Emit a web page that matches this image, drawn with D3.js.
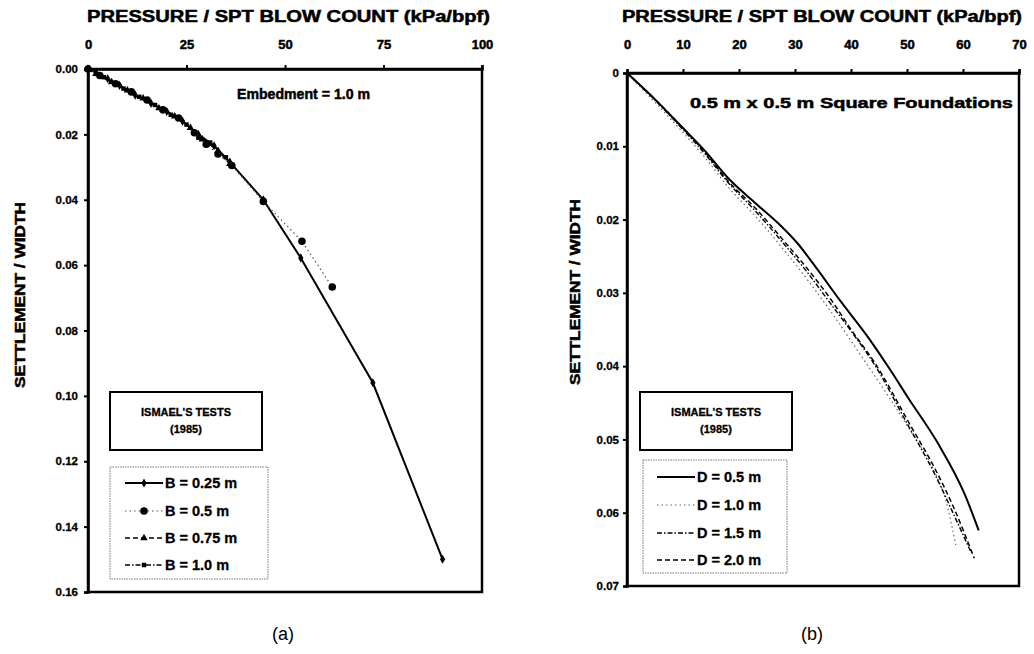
<!DOCTYPE html>
<html>
<head>
<meta charset="utf-8">
<script src="https://cdn.jsdelivr.net/npm/d3@7"></script>
<style>
  body { margin: 0; background: #fff; }
  svg text { font-family: "Liberation Sans", Arial, sans-serif; fill: #000; }
  svg text.heavy { stroke: #000; stroke-width: 0.5; }
</style>
</head>
<body>
<div id="js-chart"></div>
<script>
"use strict";

// Panel (a): pressure (kPa/bpf) vs settlement / width, embedment 1.0 m
var seriesA_B025 = [[0,0],[2,0.001],[5,0.003],[8,0.005],[12,0.008],[16,0.0105],[20,0.013],[24,0.016],[28,0.02],[32,0.0235],[36,0.0285],[44.5,0.040],[54,0.0578],[72.3,0.096],[90,0.150]];
var seriesA_B05 = [[0,0],[3,0.002],[7,0.0045],[11,0.007],[15,0.0095],[19,0.0125],[23,0.015],[27,0.0195],[30,0.023],[33,0.026],[36.5,0.0295],[44.5,0.0405],[54.3,0.0527],[62,0.0667]];
var seriesA_B075 = [[0,0],[2,0.0015],[6,0.004],[10,0.0065],[14,0.009],[18,0.012],[22,0.0145],[26,0.018],[29,0.0215],[33,0.025],[36,0.029]];
var seriesA_B10 = [[0,0],[4,0.0025],[9,0.006],[13,0.0085],[17,0.011],[21,0.014],[25,0.017],[28,0.021],[31,0.0225],[35,0.027]];
var labelsA = ["B = 0.25 m", "B = 0.5 m", "B = 0.75 m", "B = 1.0 m"];
var xTicksA = [0, 25, 50, 75, 100];
var yTicksA = [0, 0.02, 0.04, 0.06, 0.08, 0.10, 0.12, 0.14, 0.16];

// Panel (b): 0.5 m x 0.5 m square foundations, several embedment depths
var seriesB_D05 = [[0,0],[5,0.0036],[9.2,0.0069],[14,0.0107],[18,0.0143],[23,0.0178],[27,0.0205],[30.4,0.0232],[34,0.0268],[38,0.031],[43,0.036],[47,0.0405],[50.1,0.0442],[55.5,0.0505],[60.2,0.0573],[62.8,0.0624]];
var seriesB_D10 = [[0,0],[5,0.004],[9.5,0.0077],[14,0.0116],[18,0.0155],[23,0.0196],[28.3,0.0244],[33,0.029],[36.9,0.0331],[42,0.0388],[47.1,0.0446],[51,0.0493],[54.8,0.0542],[57,0.0585],[58.7,0.0644]];
var seriesB_D15 = [[0,0],[5,0.0037],[9.5,0.0073],[14,0.0111],[18,0.0149],[23,0.0189],[28,0.0233],[32,0.027],[36,0.0311],[40,0.0352],[44.2,0.0398],[50,0.0478],[55,0.0548],[58.5,0.0605],[61.5,0.0655]];
var seriesB_D20 = [[0,0],[5,0.0036],[9.5,0.0071],[14,0.0109],[18,0.0147],[23,0.0185],[28,0.0229],[32,0.0265],[36.5,0.031],[40,0.035],[44.2,0.0395],[50.7,0.0482],[55,0.054],[58.4,0.0594],[62,0.0662]];
var labelsB = ["D = 0.5 m", "D = 1.0 m", "D = 1.5 m", "D = 2.0 m"];
var xTicksB = [0, 10, 20, 30, 40, 50, 60, 70];
var yTicksB = [0, 0.01, 0.02, 0.03, 0.04, 0.05, 0.06, 0.07];

var svg = d3.select("#js-chart").append("svg")
  .attr("width", 1034)
  .attr("height", 654);

var drawPanel = function(cfg) {
  var x = d3.scaleLinear().domain(cfg.xDomain).range([cfg.left, cfg.right]);
  var y = d3.scaleLinear().domain(cfg.yDomain).range([cfg.top, cfg.bottom]);
  var g = svg.append("g");

  // frame
  g.append("rect")
    .attr("x", cfg.left).attr("y", cfg.top)
    .attr("width", cfg.right - cfg.left).attr("height", cfg.bottom - cfg.top)
    .attr("fill", "none").attr("stroke", "#000").attr("stroke-width", 2.5);

  var xAxis = g.append("g")
    .attr("transform", "translate(0," + cfg.top + ")")
    .call(d3.axisTop(x).tickValues(cfg.xTicks).tickSize(4).tickPadding(cfg.xPad));
  var yAxis = g.append("g")
    .attr("transform", "translate(" + cfg.left + ",0)")
    .call(d3.axisLeft(y).tickValues(cfg.yTicks).tickSize(4).tickPadding(cfg.yPad).tickFormat(cfg.yFormat));

  [xAxis, yAxis].forEach(function(a) {
    a.select(".domain").attr("stroke-width", 2.5);
    a.selectAll(".tick line").attr("stroke-width", 2);
    a.selectAll(".tick text")
      .attr("class", "heavy")
      .attr("font-family", "Liberation Sans, Arial, sans-serif")
      .attr("font-weight", "bold");
  });
  xAxis.selectAll(".tick text").attr("font-size", 13);
  yAxis.selectAll(".tick text").attr("font-size", 11.5).style("stroke-width", 0.3);

  // axis titles
  g.append("text")
    .attr("class", "heavy")
    .attr("x", cfg.titleX).attr("y", 22)
    .attr("font-size", 16).attr("font-weight", "bold")
    .attr("textLength", cfg.titleW).attr("lengthAdjust", "spacingAndGlyphs")
    .text("PRESSURE / SPT BLOW COUNT (kPa/bpf)");
  g.append("text")
    .attr("class", "heavy")
    .attr("transform", "translate(" + cfg.yTitleX + "," + cfg.yTitleY + ") rotate(-90)")
    .attr("text-anchor", "middle")
    .attr("font-size", 15).attr("font-weight", "bold")
    .attr("textLength", 186).attr("lengthAdjust", "spacingAndGlyphs")
    .text("SETTLEMENT / WIDTH");

  // note inside plot
  g.append("text")
    .attr("class", "heavy")
    .attr("x", cfg.noteX).attr("y", cfg.noteY)
    .attr("font-size", 15).attr("font-weight", "bold")
    .attr("textLength", cfg.noteW).attr("lengthAdjust", "spacingAndGlyphs")
    .text(cfg.note);

  var line = d3.line()
    .curve(cfg.curve)
    .x(function(d) { return x(d[0]); })
    .y(function(d) { return y(d[1]); });

  cfg.series.forEach(function(s) {
    g.append("path")
      .datum(s.data)
      .attr("d", line)
      .attr("fill", "none")
      .attr("stroke", s.color)
      .attr("stroke-width", s.width)
      .attr("stroke-dasharray", s.dash);
    if (s.symbol) {
      g.selectAll(null)
        .data(s.data)
        .enter().append("path")
        .attr("transform", function(d) { return "translate(" + x(d[0]) + "," + y(d[1]) + ")"; })
        .attr("d", d3.symbol().type(s.symbol).size(s.size))
        .attr("fill", "#000");
    }
  });

  // "ISMAEL'S TESTS" box
  var b1 = cfg.box1;
  g.append("rect")
    .attr("x", b1[0]).attr("y", b1[1]).attr("width", b1[2]).attr("height", b1[3])
    .attr("fill", "#fff").attr("stroke", "#000").attr("stroke-width", 2);
  g.append("text")
    .attr("class", "heavy")
    .attr("x", b1[0] + b1[2] / 2).attr("y", b1[1] + 24)
    .attr("text-anchor", "middle").attr("font-size", 11).attr("font-weight", "bold")
    .style("stroke-width", 0.3)
    .text("ISMAEL'S TESTS");
  g.append("text")
    .attr("class", "heavy")
    .attr("x", b1[0] + b1[2] / 2).attr("y", b1[1] + 41)
    .attr("text-anchor", "middle").attr("font-size", 11).attr("font-weight", "bold")
    .style("stroke-width", 0.3)
    .text("(1985)");

  // legend
  var b2 = cfg.box2;
  g.append("rect")
    .attr("x", b2[0]).attr("y", b2[1]).attr("width", b2[2]).attr("height", b2[3])
    .attr("fill", "#fff").attr("stroke", "#777").attr("stroke-width", 1)
    .attr("stroke-dasharray", "1.5,1");
  cfg.series.forEach(function(s, i) {
    var ly = cfg.legendY[i];
    g.append("line")
      .attr("x1", cfg.legendX[0]).attr("x2", cfg.legendX[1])
      .attr("y1", ly).attr("y2", ly)
      .attr("stroke", s.color).attr("stroke-width", s.width)
      .attr("stroke-dasharray", s.dash);
    if (s.symbol) {
      g.append("path")
        .attr("transform", "translate(" + ((cfg.legendX[0] + cfg.legendX[1]) / 2) + "," + ly + ")")
        .attr("d", d3.symbol().type(s.symbol).size(s.size))
        .attr("fill", "#000");
    }
    g.append("text")
      .attr("class", "heavy")
      .attr("x", cfg.legendX[1] + 2).attr("y", ly + 5)
      .attr("font-size", 14.5).attr("font-weight", "bold")
      .style("stroke-width", 0.3)
      .text(s.label);
  });

  g.append("text")
    .attr("x", cfg.captionX).attr("y", 640)
    .attr("text-anchor", "middle").attr("font-size", 18)
    .text(cfg.caption);
};

drawPanel({
  left: 88, right: 482, top: 69, bottom: 592,
  xDomain: [0, 100], yDomain: [0, 0.16],
  xTicks: xTicksA, yTicks: yTicksA,
  xPad: 16, yPad: 6,
  yFormat: d3.format(".2f"),
  titleX: 87, titleW: 403,
  yTitleX: 25, yTitleY: 295,
  note: "Embedment = 1.0 m", noteX: 237, noteY: 99, noteW: 133,
  curve: d3.curveLinear,
  series: [
    { data: seriesA_B025, label: labelsA[0], color: "#000", width: 2, dash: null, symbol: d3.symbolDiamond, size: 24 },
    { data: seriesA_B05, label: labelsA[1], color: "#555", width: 1.2, dash: "1.5,3", symbol: d3.symbolCircle, size: 45 },
    { data: seriesA_B075, label: labelsA[2], color: "#000", width: 1.4, dash: "5,3", symbol: d3.symbolTriangle, size: 24 },
    { data: seriesA_B10, label: labelsA[3], color: "#000", width: 1.4, dash: "5,2,1.5,2", symbol: d3.symbolSquare, size: 20 }
  ],
  box1: [110, 392, 152, 58],
  box2: [110, 467, 158, 112],
  legendX: [125, 163],
  legendY: [483, 511, 538, 565],
  caption: "(a)", captionX: 283
});

drawPanel({
  left: 627, right: 1019, top: 73, bottom: 586,
  xDomain: [0, 70], yDomain: [0, 0.07],
  xTicks: xTicksB, yTicks: yTicksB,
  xPad: 20, yPad: 4,
  yFormat: function(d) { return d === 0 ? "0" : d.toFixed(2); },
  titleX: 622, titleW: 400,
  yTitleX: 580, yTitleY: 292,
  note: "0.5 m x 0.5 m Square Foundations", noteX: 690, noteY: 108, noteW: 323,
  curve: d3.curveMonotoneX,
  series: [
    { data: seriesB_D05, label: labelsB[0], color: "#000", width: 2, dash: null },
    { data: seriesB_D10, label: labelsB[1], color: "#666", width: 1.2, dash: "1.5,3" },
    { data: seriesB_D15, label: labelsB[2], color: "#000", width: 1.4, dash: "5,2,1.5,2" },
    { data: seriesB_D20, label: labelsB[3], color: "#000", width: 1.5, dash: "5,3" }
  ],
  box1: [640, 392, 152, 58],
  box2: [643, 460, 144, 113],
  legendX: [657, 695],
  legendY: [477, 505, 533, 560],
  caption: "(b)", captionX: 812
});
</script>
</body>
</html>
